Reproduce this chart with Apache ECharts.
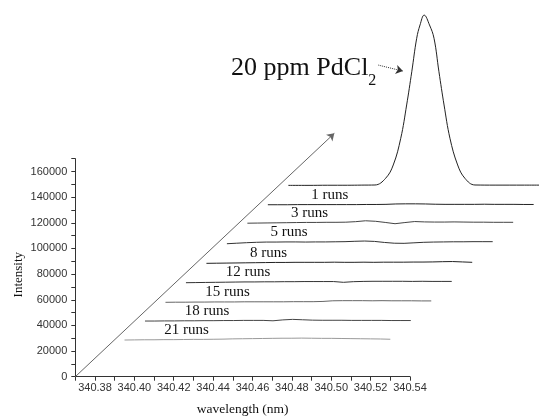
<!DOCTYPE html>
<html><head><meta charset="utf-8">
<script src="https://cdn.jsdelivr.net/npm/echarts@6/dist/echarts.min.js"></script>
<style>html,body{margin:0;padding:0;background:#fff}#c{width:539px;height:416px}</style>
</head><body><div id="c"></div>
<script>
// ---- data ----
const wavelength = [340.395,340.400,340.405,340.410,340.415,340.420,340.425,340.430,340.435,340.440,
  340.445,340.450,340.455,340.460,340.465,340.470,340.475,340.480,340.485,340.490,
  340.495,340.500,340.505,340.510,340.515,340.520,340.525,340.530];
const runNames = ['21 runs','18 runs','15 runs','12 runs','8 runs','5 runs','3 runs','1 runs'];
const run21 = [28600,28700,28800,28800,28900,28900,29000,29100,29100,29200,29300,29500,29600,29700,29800,29900,30000,30000,30100,30000,29900,29900,29800,29700,29600,29500,29400,29200];
const run18 = [28400,28400,28500,28500,28600,28600,28700,28700,28800,28800,28900,28900,28900,28600,29300,29700,29400,29100,29000,29000,29000,28900,28900,28900,28900,28800,28800,28800];
const run15 = [28000,28100,28100,28200,28200,28300,28300,28300,28400,28400,28400,28400,28400,28500,28500,28500,28700,29200,29300,29300,29300,29200,29300,29200,29200,29200,29100,29100];
const run12 = [28300,28400,28500,28600,28700,28800,28900,28900,29000,29000,29100,29100,29200,29200,29200,29200,28600,29100,29300,29400,29400,29400,29400,29300,29400,29300,29300,29300];
const run8  = [28400,28500,28600,28700,28800,28900,29000,29100,29100,29200,29200,29200,29200,29300,29200,29200,29300,29200,29300,29300,29300,29400,29400,29500,29700,29800,29500,29200];
const run5  = [28700,29100,29500,29800,30000,30000,30100,30100,30000,30100,30100,30200,30300,30600,30800,30500,29700,29100,29000,29400,29800,30000,30100,30200,30200,30300,30300,30300];
const run3  = [29700,29800,29900,30000,30100,30200,30300,30300,30400,30400,30500,30900,31600,31200,30300,29300,30200,31000,30700,30600,30600,30700,30600,30500,30500,30400,30400,30400];
const run1  = [29100,29100,29100,29200,29200,29200,29200,29200,29200,29200,29300,29300,29400,29700,29800,29800,29700,29500,29400,29400,29400,29400,29500,29400,29400,29400,29300,29300];
const refName = '20 ppm PdCl';
const refSub = '2';
const refWavelength = [340.395,340.405,340.415,340.425,340.432,340.4390,340.4444,340.4483,340.4521,340.4551,340.4577,340.4602,340.4619,340.4640,340.4667,340.4690,340.4715,340.4741,340.4771,340.4810,340.4847,340.4898,340.500,340.515,340.530];
const refIntensity  = [29200,29200,29300,29300,29400,29500,34700,45100,65900,91900,117800,143900,154300,162000,154300,143900,117800,91900,65900,45100,34700,29500,29400,29400,29400];
const offsetStepX = 0.0104;   // waterfall shift per spectrum (nm)
const offsetStepY = 15000;    // waterfall shift per spectrum (intensity)
const xTickLabels = ['340.38','340.40','340.42','340.44','340.46','340.48','340.50','340.52','340.54'];
const yTickLabels = ['0','20000','40000','60000','80000','100000','120000','140000','160000'];

// ---- chart ----
const W = 539, H = 416;
const runs = [run21, run18, run15, run12, run8, run5, run3, run1];
const runColors = ['#9a9a9a','#444','#666','#333','#222','#333','#444','#222'];
const labelIndex = 6;
const serif = '"Liberation Serif","Times New Roman",serif';
const sans = '"Liberation Sans",Arial,sans-serif';

// visible axes grid
const xMin = 340.37, xMax = 340.54, yMin = 0, yMax = 170000;
const gA = { left: 75.3, right: 129, top: 158.7, bottom: 39.3 };
// wider hidden grid with the same scale, so the waterfall can run past the axes
const xMaxB = 340.62, yMaxB = 300000;
const pxX = (W - gA.left - gA.right) / (xMax - xMin);
const pxY = (H - gA.top - gA.bottom) / (yMax - yMin);
const gB = { left: gA.left, bottom: gA.bottom,
  right: W - gA.left - (xMaxB - xMin) * pxX,
  top: H - gA.bottom - (yMaxB - yMin) * pxY };

const series = runs.map((vals, k) => ({
  type: 'line', name: runNames[k], xAxisIndex: 1, yAxisIndex: 1,
  symbol: 'circle', symbolSize: 0, showSymbol: true, showAllSymbol: true,
  lineStyle: { color: runColors[k], width: 1 }, itemStyle: { color: runColors[k] },
  label: { show: false },
  data: wavelength.map((w, i) => {
    const item = { value: [w + k * offsetStepX, vals[i] + k * offsetStepY] };
    if (i === labelIndex) item.label = { show: true, position: 'top', distance: 2, offset: [3, 0],
      formatter: runNames[k], fontFamily: serif, fontSize: 15, color: '#111' };
    return item;
  })
}));

const kRef = runs.length;
const refData = refWavelength.map((w, i) => [w + kRef * offsetStepX, refIntensity[i] + kRef * offsetStepY]);
// annotation arrow pointing at the left flank of the reference peak
const target = refData[10];
const annTo = [target[0] - 0.0045, target[1] + 500];
const annFrom = [annTo[0] - 0.0125, annTo[1] + 4700];

series.push({
  type: 'line', name: 'ref', xAxisIndex: 1, yAxisIndex: 1, symbol: 'none', smooth: 0.4,
  lineStyle: { color: '#222', width: 1 },
  data: refData,
  markLine: {
    silent: true, symbol: ['none', 'arrow'], symbolSize: 7, animation: false,
    lineStyle: { color: '#333', width: 1, type: 'dotted' },
    label: { show: true, position: 'start', distance: 2, offset: [0, 4],
      formatter: () => '{m|' + refName + '}{s|' + refSub + '}',
      rich: {
        m: { fontFamily: serif, fontSize: 26, lineHeight: 26, verticalAlign: 'top', color: '#111' },
        s: { fontFamily: serif, fontSize: 16, lineHeight: 16, verticalAlign: 'top', padding: [17, 0, 0, 0], color: '#111' }
      } },
    data: [[{ coord: annFrom }, { coord: annTo }]]
  }
});
// diagonal "runs" direction axis
series.push({
  type: 'line', name: 'dir', xAxisIndex: 1, yAxisIndex: 1, symbol: 'none',
  lineStyle: { opacity: 0 }, data: [[xMin, 0]],
  markLine: {
    silent: true, symbol: ['none', 'arrow'], symbolSize: 7, animation: false,
    lineStyle: { color: '#666', width: 1, type: 'solid' }, label: { show: false },
    data: [[{ coord: [xMin, 0] }, { coord: [xMin + 12.65 * offsetStepX, 12.65 * offsetStepY] }]]
  }
});

const hiddenAxis = { show: false, splitLine: { show: false } };
const chart = echarts.init(document.getElementById('c'), null, { renderer: 'canvas' });
chart.setOption({
  animation: false,
  backgroundColor: '#fff',
  grid: [
    Object.assign({ containLabel: false, outerBoundsMode: 'none' }, gA),
    Object.assign({ containLabel: false, outerBoundsMode: 'none' }, gB)
  ],
  xAxis: [{
    type: 'value', gridIndex: 0, min: xMin, max: xMax, interval: 0.01,
    name: 'wavelength (nm)', nameLocation: 'middle', nameGap: 26, nameMoveOverlap: false,
    nameTextStyle: { fontFamily: serif, fontSize: 13.5, color: '#111' },
    axisLine: { show: true, lineStyle: { color: '#333', width: 1 } },
    axisTick: { show: true, inside: false, length: 4, lineStyle: { color: '#333' } },
    axisLabel: { margin: 6, fontFamily: sans, fontSize: 11, color: '#333',
      formatter: v => { const s = v.toFixed(2); return xTickLabels.includes(s) ? s : ''; } },
    splitLine: { show: false }
  }, Object.assign({ type: 'value', gridIndex: 1, min: xMin, max: xMaxB }, hiddenAxis)],
  yAxis: [{
    type: 'value', gridIndex: 0, min: yMin, max: yMax, interval: 10000,
    name: 'Intensity', nameLocation: 'middle', nameRotate: 90, nameGap: 50, nameMoveOverlap: false,
    nameTextStyle: { fontFamily: serif, fontSize: 13, color: '#111', padding: [0, 14, 0, 0] },
    axisLine: { show: true, lineStyle: { color: '#333', width: 1 } },
    axisTick: { show: true, inside: false, length: 4, lineStyle: { color: '#333' } },
    axisLabel: { margin: 8, fontFamily: sans, fontSize: 11, color: '#333',
      formatter: v => { const s = String(Math.round(v)); return yTickLabels.includes(s) ? s : ''; } },
    splitLine: { show: false }
  }, Object.assign({ type: 'value', gridIndex: 1, min: yMin, max: yMaxB }, hiddenAxis)],
  series: series
});
</script></body></html>
